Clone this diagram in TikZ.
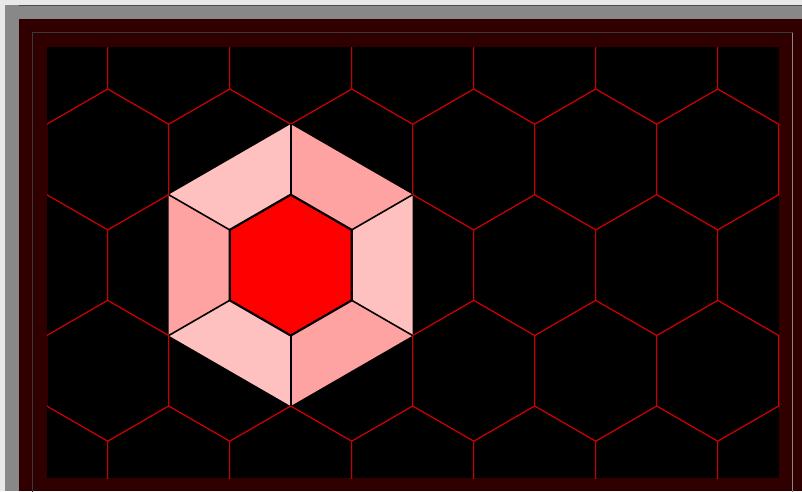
\documentclass[tikz,border=0pt]{standalone}

\definecolor{bglight}{HTML}{E8E8E8}
\definecolor{bggray}{HTML}{888888}
\definecolor{framered}{HTML}{300000}
\definecolor{bevdark}{HTML}{3A3A3A}
\definecolor{bevlight}{HTML}{8A8A8A}
\definecolor{gridred}{HTML}{C80000}
\definecolor{pinklight}{HTML}{FFC0C0}
\definecolor{pinkdark}{HTML}{FFA2A2}

\begin{document}
\begin{tikzpicture}[x=1pt, y=-1pt,
  hexedge/.style={draw=gridred, line width=1pt},
  spoke/.style={draw=black, line width=1.6pt},
  corehex/.style={draw=black, fill=red, line width=2.2pt, line join=round}]

\def\hr{70.44}
\def\hw{122}
\def\hdy{105.66}

\useasboundingbox (0,0) rectangle (802,491);

% window frame
\fill[bglight] (0,0) rectangle (802,491);
\fill[bggray] (5,5) rectangle (802,491);
\draw[gray!60!black, line width=0.8pt] (19,5.4) -- (802,5.4);
\fill[framered] (19,19) rectangle (802,491);
\draw[bevdark, line width=1pt] (32.5,500) -- (32.5,32.5) -- (792.5,32.5);
\draw[bevlight, line width=1pt] (792.5,32.5) -- (792.5,500);
\fill[black] (47,47) rectangle (779,478);

% hex grid
\begin{scope}
  \clip (47,47) rectangle (779,478);
  \foreach \k in {0,...,4} {
    \pgfmathsetmacro{\cy}{53.78+\k*\hdy}
    \pgfmathsetmacro{\xoff}{46.7+61*mod(\k,2)}
    \foreach \j in {-1,...,6} {
      \draw[hexedge] (\xoff+\j*\hw, \cy) +(90:\hr) -- +(30:\hr) -- +(-30:\hr)
        -- +(-90:\hr) -- +(-150:\hr) -- +(150:\hr) -- cycle;
    }
  }
\end{scope}

% selected cell
\coordinate (hc) at (290.7, 265.1);

%ring of trapezoids
\foreach \a/\col in {-30/pinklight, 30/pinkdark, 90/pinklight,
                     150/pinkdark, 210/pinklight, 270/pinkdark} {
  \fill[fill=\col] (hc) +(\a:2*\hr) -- +(\a+60:2*\hr) -- +(\a+60:\hr)
    -- +(\a:\hr) -- cycle;
}

%spokes
\foreach \a in {-90,-30,...,210} {
  \draw[spoke] (hc) +(\a:\hr) -- +(\a:2*\hr);
}

%centre hexagon
\draw[corehex] (hc) +(90:\hr) -- +(30:\hr) -- +(-30:\hr) -- +(-90:\hr)
  -- +(-150:\hr) -- +(150:\hr) -- cycle;

\end{tikzpicture}
\end{document}
